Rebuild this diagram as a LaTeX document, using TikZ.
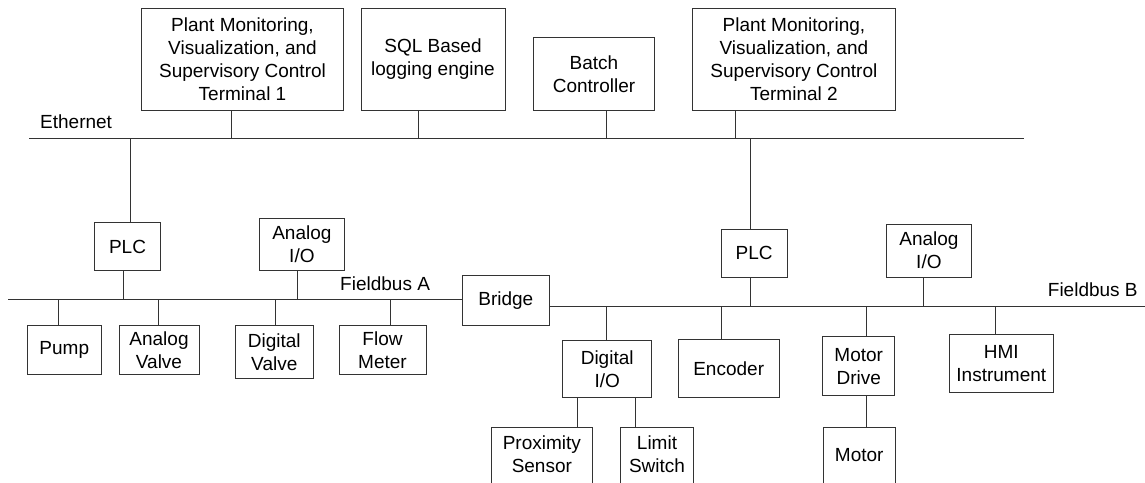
\documentclass[tikz,border=0pt]{standalone}
\usepackage{fontspec}
\setmainfont{Liberation Sans}
\usetikzlibrary{calc}
\begin{document}
\begin{tikzpicture}[x=1pt,y=-1pt,
  ln/.style={draw=black!80,line width=1pt},
  box/.style={ln,rectangle,inner sep=0pt,align=center,font=\fontsize{19}{23}\selectfont},
  txt/.style={inner sep=0pt,align=center,font=\fontsize{19}{23}\selectfont},
  lbl/.style={inner sep=0pt,anchor=west,font=\fontsize{19}{23}\selectfont}]
\useasboundingbox (0,0) rectangle (1145,482);
\clip (0,0) rectangle (1145,482);
% top level
\node[box,minimum width=201.6,minimum height=101.7] (t1) at (242.5,59.2) {Plant Monitoring,\\Visualization, and\\Supervisory Control\\Terminal 1};
\node[box,minimum width=144,minimum height=101.7] (sql) at (433,59.2) {SQL Based\\logging engine};
\node[box,minimum width=120.6,minimum height=72.3] (batch) at (594,73.9) {Batch\\Controller};
\node[box,minimum width=202.3,minimum height=101.7] (t2) at (793.9,59.2) {Plant Monitoring,\\Visualization, and\\Supervisory Control\\Terminal 2};
% controllers
\node[box,minimum width=65.6,minimum height=47.6] (plc1) at (127.5,246.5) {PLC};
\node[box,minimum width=84.3,minimum height=52] (aio1) at (301.9,244.3) {Analog\\I/O};
\node[box,minimum width=65.7,minimum height=48] (plc2) at (754.2,253) {PLC};
\node[box,minimum width=84.3,minimum height=52.7] (aio2) at (928.9,250.7) {Analog\\I/O};
% fieldbus A devices
\node[box,minimum width=74,minimum height=48.6] (pump) at (64.3,350) {Pump};
\node[box,minimum width=80,minimum height=48.6] (avalve) at (159,350) {Analog\\Valve};
\node[box,minimum width=78,minimum height=52.6] (dvalve) at (274.3,352) {Digital\\Valve};
\node[box,minimum width=87,minimum height=48.6] (flow) at (382.5,350) {Flow\\Meter};
\node[box,minimum width=87,minimum height=50] (bridge) at (505.8,300.7) {Bridge};
% fieldbus B devices
\node[box,minimum width=89,minimum height=57.4] (dio) at (607.2,369) {Digital\\I/O};
\node[box,minimum width=100.7,minimum height=58.4] (enc) at (728.7,368.5) {Encoder};
\node[box,minimum width=72,minimum height=59] (mdrive) at (858.7,366.2) {Motor\\Drive};
\node[box,minimum width=104,minimum height=58.4] (hmi) at (1001.3,363.5) {HMI\\Instrument};
% bottom (cut off) devices
\node[box,anchor=north west,minimum width=100.7,minimum height=90] (prox) at (491,426.7) {};
\node[txt] (proxt) at ($(prox.north)+(0,27.5)$) {Proximity\\Sensor};
\node[box,anchor=north west,minimum width=72.4,minimum height=90] (limit) at (620.3,426.7) {};
\node[txt] (limitt) at ($(limit.north)+(0,27.5)$) {Limit\\Switch};
\node[box,anchor=north west,minimum width=72,minimum height=90] (motor) at (822.7,426.7) {};
\node[txt] (motort) at ($(motor.north)+(0,28.3)$) {Motor};
% labels
\node[lbl] (ethl) at (40,121.7) {Ethernet};
\node[lbl] (fbal) at (340,283.3) {Fieldbus A};
\node[lbl] (fbbl) at (1047.7,289.3) {Fieldbus B};
% buses
\coordinate (ethL) at (29,138.3);
\coordinate (ethR) at (1024.3,138.3);
\coordinate (fbaL) at (8.3,299);
\coordinate (fbbR) at (1146,306);
\draw[ln] (ethL) -- (ethR);
\draw[ln] (fbaL) -- (fbaL -| bridge.west);
\draw[ln] (bridge.east |- fbbR) -- (fbbR);
% ethernet taps
\coordinate (e1) at (231,138.3);
\coordinate (e2) at (418.3,138.3);
\coordinate (e3) at (606.3,138.3);
\coordinate (e4) at (735.3,138.3);
\coordinate (e5) at (130,138.3);
\coordinate (e6) at (750,138.3);
\draw[ln] (t1.south -| e1) -- (e1);
\draw[ln] (sql.south -| e2) -- (e2);
\draw[ln] (batch.south -| e3) -- (e3);
\draw[ln] (t2.south -| e4) -- (e4);
\draw[ln] (e5) -- (e5 |- plc1.north);
\draw[ln] (e6) -- (e6 |- plc2.north);
% fieldbus A taps
\coordinate (a1) at (123.7,299);
\coordinate (a2) at (297,299);
\coordinate (a3) at (58.3,299);
\coordinate (a4) at (158.7,299);
\coordinate (a5) at (275,299);
\coordinate (a6) at (390,299);
\draw[ln] (plc1.south -| a1) -- (a1);
\draw[ln] (aio1.south -| a2) -- (a2);
\draw[ln] (a3) -- (a3 |- pump.north);
\draw[ln] (a4) -- (a4 |- avalve.north);
\draw[ln] (a5) -- (a5 |- dvalve.north);
\draw[ln] (a6) -- (a6 |- flow.north);
% fieldbus B taps
\coordinate (b1) at (606.3,306);
\coordinate (b2) at (721.7,306);
\coordinate (b3) at (750,306);
\coordinate (b4) at (866,306);
\coordinate (b5) at (923.3,306);
\coordinate (b6) at (995.7,306);
\draw[ln] (b1) -- (b1 |- dio.north);
\draw[ln] (b2) -- (b2 |- enc.north);
\draw[ln] (plc2.south -| b3) -- (b3);
\draw[ln] (b4) -- (b4 |- mdrive.north);
\draw[ln] (aio2.south -| b5) -- (b5);
\draw[ln] (b6) -- (b6 |- hmi.north);
% lower links
\coordinate (d1) at (577.3,397.7);
\coordinate (d2) at (635.3,397.7);
\draw[ln] (dio.south -| d1) -- (d1 |- prox.north);
\draw[ln] (dio.south -| d2) -- (d2 |- limit.north);
\draw[ln] (mdrive.south -| b4) -- (b4 |- motor.north);
\end{tikzpicture}
\end{document}
